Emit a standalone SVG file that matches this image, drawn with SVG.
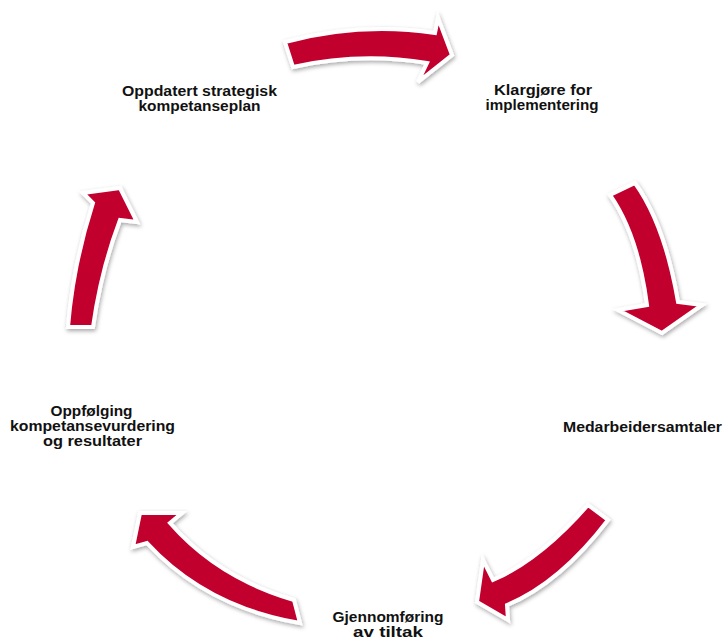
<svg xmlns="http://www.w3.org/2000/svg" width="723" height="644" viewBox="0 0 723 644">
<defs>
<filter id="sh" x="-20%" y="-20%" width="140%" height="140%">
<feDropShadow dx="1" dy="2" stdDeviation="2" flood-color="#000" flood-opacity="0.35"/>
</filter>
<style>
.arr{fill:#C1002F;stroke:#fff;stroke-width:4;stroke-linejoin:miter;filter:url(#sh)}
.lbl{font-family:"Liberation Sans",Arial,sans-serif;font-weight:bold;font-size:14px;fill:#111;text-anchor:middle}
</style>
</defs>
<rect width="723" height="644" fill="#fff"/>
<g id="connectors">
<path class="arr" d="M285,42 Q360,22 435,33 L438,18 L452,55 L418,82 L427,63 Q360,52 293,67 Z"/>
<path class="arr" d="M610,195 L635,183 Q665,225 678,302 L702,305 L662,333 L618,310 L647,305 Q638,235 610,195 Z"/>
<path class="arr" d="M588,505 L608,520 Q560,583 507,605 L508,620 L477,602 L483,560 L493,580 Q540,560 588,505 Z"/>
<path class="arr" d="M300,623 Q206,607 147,543 L133,547 L140,513 L182,513 L170,523 Q218,578 294,600 Z"/>
<path class="arr" d="M68,327 L93,327 Q101,270 120,220 L137,222 L120,188 L83,193 L93,203 Q73,265 68,327 Z"/>
</g>
<g id="n1"><text class="lbl" x="199.5" y="96" textLength="155" lengthAdjust="spacingAndGlyphs">Oppdatert strategisk</text><text class="lbl" x="199.5" y="111" textLength="122" lengthAdjust="spacingAndGlyphs">kompetanseplan</text></g>
<g id="n2"><text class="lbl" x="543" y="95" textLength="98" lengthAdjust="spacingAndGlyphs">Klargjøre for</text><text class="lbl" x="542" y="110" textLength="113" lengthAdjust="spacingAndGlyphs">implementering</text></g>
<g id="n3"><text class="lbl" x="563" y="432" style="text-anchor:start" textLength="159" lengthAdjust="spacingAndGlyphs">Medarbeidersamtaler</text></g>
<g id="n4"><text class="lbl" x="388" y="622" textLength="111" lengthAdjust="spacingAndGlyphs">Gjennomføring</text><text class="lbl" x="388" y="637" textLength="70" lengthAdjust="spacingAndGlyphs">av tiltak</text></g>
<g id="n5"><text class="lbl" x="91.5" y="416" textLength="82" lengthAdjust="spacingAndGlyphs">Oppfølging</text><text class="lbl" x="92.5" y="431" textLength="165" lengthAdjust="spacingAndGlyphs">kompetansevurdering</text><text class="lbl" x="92.5" y="446" textLength="99" lengthAdjust="spacingAndGlyphs">og resultater</text></g>
</svg>
